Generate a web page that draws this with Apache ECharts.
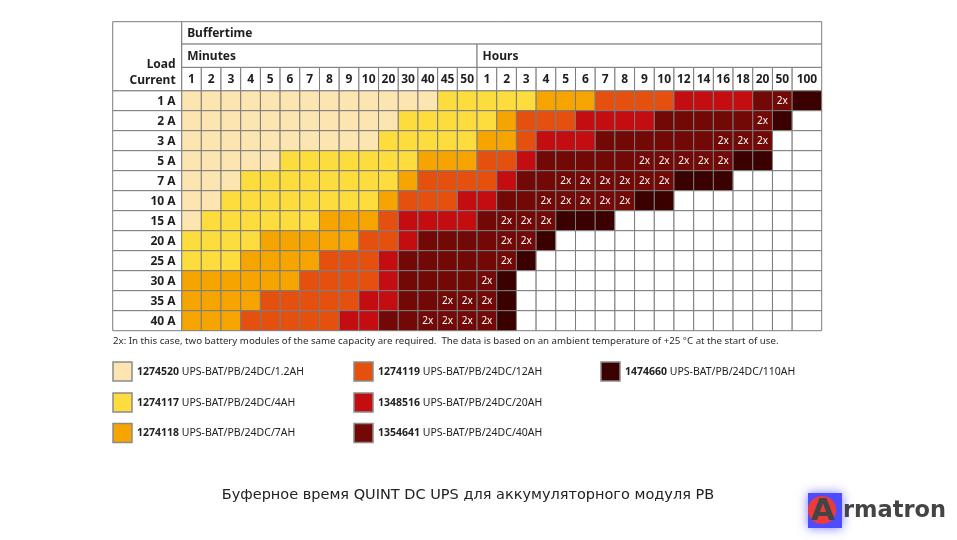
<!doctype html>
<meta charset="utf-8">
<title>Буферное время QUINT DC UPS</title>
<style>
	html, body { margin: 0; padding: 0; background: #fff; }
	#chart { width: 957px; height: 540px; }
</style>
<div id="chart"></div>
<script src="https://cdn.jsdelivr.net/npm/echarts@6/dist/echarts.min.js"></script>
<script>
	const rowLabels = ['1 A', '2 A', '3 A', '5 A', '7 A', '10 A', '15 A', '20 A', '25 A', '30 A', '35 A', '40 A'];
	const minuteLabels = ['1', '2', '3', '4', '5', '6', '7', '8', '9', '10', '20', '30', '40', '45', '50'];
	const hourLabels = ['1', '2', '3', '4', '5', '6', '7', '8', '9', '10', '12', '14', '16', '18', '20', '50', '100'];
	const moduleCodes = ['1274520', '1274117', '1274118', '1274119', '1348516', '1354641', '1474660'];
	const moduleNames = ['UPS-BAT/PB/24DC/1.2AH', 'UPS-BAT/PB/24DC/4AH', 'UPS-BAT/PB/24DC/7AH',
		'UPS-BAT/PB/24DC/12AH', 'UPS-BAT/PB/24DC/20AH', 'UPS-BAT/PB/24DC/40AH', 'UPS-BAT/PB/24DC/110AH'];
	const moduleColors = ['#fde5b1', '#fddc3e', '#f5a400', '#e5500f', '#c30d10', '#720906', '#3b0000'];
	// one digit per column (minutes then hours): module number 1..7, 0 = not possible
	const moduleGrid = [
		'11111111111112222233344445555667',
		'11111111111222223444555566666670',
		'11111111112222233455566666666600',
		'11111222222233344566666666667700',
		'11122222222344445666666667770000',
		'11222222223444556666666770000000',
		'12222223334555566667770000000000',
		'22223333344566666670000000000000',
		'22233334445666666700000000000000',
		'33333344445666667000000000000000',
		'33334444455666667000000000000000',
		'33344444556666667000000000000000'
	];
	// column indexes where two modules of that capacity are needed
	const twoModules = [
		[30], [29], [27, 28, 29], [23, 24, 25, 26, 27], [19, 20, 21, 22, 23, 24], [18, 19, 20, 21, 22],
		[16, 17, 18], [16, 17], [16], [15], [13, 14, 15], [12, 13, 14, 15]
	];
	const footnote = '2x: In this case, two battery modules of the same capacity are required.  The data is based on an ambient temperature of +25 °C at the start of use.';
	const caption = 'Буферное время QUINT DC UPS для аккумуляторного модуля PB';

	// table layout in axis units (1 unit = one column / one row)
	const LABEL_W = 3.5, LAST_W = 1.5;
	const HEAD = [-3.45, -2.33, -1.17, 0];
	const LINE = '#7c7c7c';
	const FONT = '"Noto Sans", sans-serif';
	const colLabels = minuteLabels.concat(hourLabels);
	const nCols = colLabels.length;
	const xMax = nCols - 1 + LAST_W;
	const colX0 = i => i;
	const colX1 = i => i === nCols - 1 ? i + LAST_W : i + 1;

	function box(api, x0, y0, x1, y1) {
		const p0 = api.coord([x0, y0]), p1 = api.coord([x1, y1]);
		return { x: p0[0], y: p0[1], width: p1[0] - p0[0], height: p1[1] - p0[1] };
	}
	function cellRect(shape, fill) {
		return { type: 'rect', shape: shape, style: { fill: fill, stroke: LINE, lineWidth: 1 } };
	}

	const cellData = [];
	moduleGrid.forEach((row, r) => {
		for (let c = 0; c < nCols; c++) {
			cellData.push([c, r, +row[c], twoModules[r].indexOf(c) >= 0 ? 1 : 0]);
		}
	});

	const spans = [
		['Buffertime', 0, HEAD[0], xMax, HEAD[1]],
		['Minutes', 0, HEAD[1], minuteLabels.length, HEAD[2]],
		['Hours', minuteLabels.length, HEAD[1], xMax, HEAD[2]]
	];

	const option = {
		animation: false,
		grid: { left: 112.7, right: 135.3, top: 21.7, bottom: 209.3 },
		xAxis: { type: 'value', min: -LABEL_W, max: xMax, show: false },
		yAxis: { type: 'value', min: HEAD[0], max: rowLabels.length, inverse: true, show: false },
		series: [
			{
				type: 'custom',
				data: cellData,
				renderItem: function (params, api) {
					const c = api.value(0), r = api.value(1), m = api.value(2);
					const shape = box(api, colX0(c), r, colX1(c), r + 1);
					const kids = [cellRect(shape, m ? moduleColors[m - 1] : '#fff')];
					if (api.value(3)) {
						kids.push({
							type: 'text',
							style: {
								text: '2x', x: shape.x + shape.width / 2, y: shape.y + shape.height / 2 + 0.5,
								align: 'center', verticalAlign: 'middle', fill: '#fff',
								fontSize: 10, fontFamily: FONT
							}
						});
					}
					return { type: 'group', children: kids };
				}
			},
			{
				type: 'custom',
				data: colLabels.map((t, i) => [i]),
				renderItem: function (params, api) {
					const i = api.value(0);
					const shape = box(api, colX0(i), HEAD[2], colX1(i), HEAD[3]);
					return {
						type: 'group', children: [cellRect(shape, '#fff'), {
							type: 'text',
							style: {
								text: colLabels[i], x: shape.x + shape.width / 2, y: shape.y + shape.height / 2 + 0.5,
								align: 'center', verticalAlign: 'middle', fill: '#1e1e1e',
								fontSize: 12, fontWeight: 'bold', fontFamily: FONT
							}
						}]
					};
				}
			},
			{
				type: 'custom',
				data: rowLabels.map((t, i) => [i]),
				renderItem: function (params, api) {
					const i = api.value(0);
					const shape = box(api, -LABEL_W, i, 0, i + 1);
					return {
						type: 'group', children: [cellRect(shape, '#fff'), {
							type: 'text',
							style: {
								text: rowLabels[i], x: shape.x + shape.width - 6, y: shape.y + shape.height / 2 + 0.5,
								align: 'right', verticalAlign: 'middle', fill: '#1e1e1e',
								fontSize: 12, fontWeight: 'bold', fontFamily: FONT
							}
						}]
					};
				}
			},
			{
				type: 'custom',
				data: spans.map((s, i) => [i]).concat([[spans.length]]),
				renderItem: function (params, api) {
					const i = api.value(0);
					if (i === spans.length) {
						const shape = box(api, -LABEL_W, HEAD[0], 0, HEAD[3]);
						return {
							type: 'group', children: [cellRect(shape, '#fff'), {
								type: 'text',
								style: {
									text: 'Load\nCurrent', x: shape.x + shape.width - 6, y: shape.y + shape.height - 18,
									align: 'right', verticalAlign: 'middle', fill: '#1e1e1e', lineHeight: 16,
									fontSize: 12, fontWeight: 'bold', fontFamily: FONT
								}
							}]
						};
					}
					const s = spans[i];
					const shape = box(api, s[1], s[2], s[3], s[4]);
					return {
						type: 'group', children: [cellRect(shape, '#fff'), {
							type: 'text',
							style: {
								text: s[0], x: shape.x + 5.5, y: shape.y + shape.height / 2 + 1,
								align: 'left', verticalAlign: 'middle', fill: '#1e1e1e',
								fontSize: 12, fontWeight: 'bold', fontFamily: FONT
							}
						}]
					};
				}
			}
		],
		graphic: []
	};

	// footnote
	option.graphic.push({
		type: 'text', left: 113, top: 336.5,
		style: { text: footnote, fill: '#2a2a2a', fontSize: 9.7, fontFamily: FONT }
	});

	// legend: three columns, filled top to bottom
	const legendX = [113, 354, 601], legendY = [362, 393, 423.5];
	moduleCodes.forEach((code, i) => {
		const gx = legendX[Math.floor(i / 3)], gy = legendY[i % 3];
		option.graphic.push({
			type: 'rect', shape: { x: gx, y: gy, width: 19, height: 19 },
			style: { fill: moduleColors[i], stroke: '#8a8a8a', lineWidth: 1.5 }
		});
		option.graphic.push({
			type: 'text', x: gx + 24, y: gy + 10,
			style: {
				text: '{c|' + code + '} ' + moduleNames[i],
				verticalAlign: 'middle', fill: '#222', fontSize: 10.5, fontFamily: FONT,
				rich: { c: { fontWeight: 'bold', fontSize: 10.5, fontFamily: FONT, fill: '#222' } }
			}
		});
	});

	// caption
	option.graphic.push({
		type: 'text', x: 468, y: 495,
		style: {
			text: caption, align: 'center', verticalAlign: 'middle',
			fill: '#222', fontSize: 14.5, fontFamily: '"DejaVu Sans", sans-serif'
		}
	});

	// logo
	option.graphic.push({
		type: 'group', children: [
			{
				type: 'rect', shape: { x: 808, y: 493, width: 34, height: 35 },
				style: { fill: '#4d4dff', shadowColor: '#7a7aff', shadowBlur: 10 }
			},
			{ type: 'circle', shape: { cx: 822, cy: 510, r: 14 }, style: { fill: '#ec3b3b' } },
			{
				type: 'text', x: 823, y: 512,
				style: {
					text: 'A', align: 'center', verticalAlign: 'middle', fill: '#444',
					fontSize: 31, fontWeight: 'bold', fontFamily: '"DejaVu Sans", sans-serif'
				}
			},
			{
				type: 'text', x: 843, y: 511,
				style: {
					text: 'rmatron', align: 'left', verticalAlign: 'middle', fill: '#444',
					fontSize: 22.5, fontWeight: 'bold', fontFamily: '"DejaVu Sans", sans-serif'
				}
			}
		]
	});

	const chart = echarts.init(document.getElementById('chart'));
	chart.setOption(option);
</script>
